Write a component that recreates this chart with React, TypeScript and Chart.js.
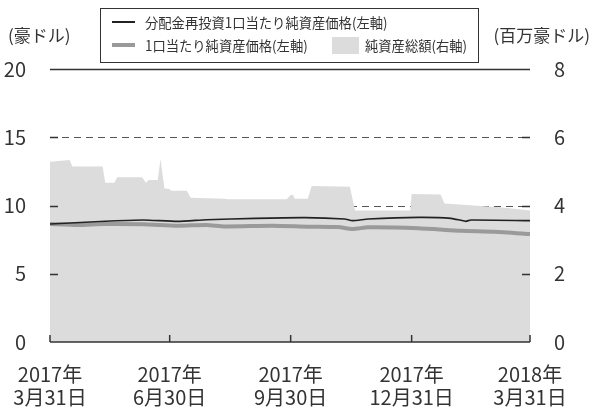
import React, { useEffect, useRef } from "react";
import { Chart, registerables } from "chart.js";

Chart.register(...registerables);

// x values are days elapsed since 2017-03-31
const tickDays = [0, 91, 183, 275, 365];
const tickLabels = [
  ["2017年", "3月31日"],
  ["2017年", "6月30日"],
  ["2017年", "9月30日"],
  ["2017年", "12月31日"],
  ["2018年", "3月31日"],
];

// 純資産総額 (百万豪ドル, right axis)
const assetDays = [0, 15, 17, 40, 42, 49, 51, 70, 73, 75, 82, 84, 87, 91, 92, 104, 107, 133, 135, 180, 183, 185, 186, 196, 199, 228, 232, 274, 275, 297, 300, 342, 365];
const assetValues = [5.28, 5.33, 5.14, 5.14, 4.67, 4.67, 4.83, 4.83, 4.67, 4.75, 4.75, 5.36, 4.5, 4.48, 4.43, 4.43, 4.23, 4.2, 4.18, 4.18, 4.31, 4.31, 4.2, 4.2, 4.57, 4.55, 3.85, 3.85, 4.34, 4.32, 4.06, 3.95, 3.85];

// 分配金再投資1口当たり純資産価格 (豪ドル, left axis)
const reinvDays = [0, 46, 71, 97, 119, 156, 194, 224, 230, 242, 280, 305, 316, 320, 365];
const reinvValues = [8.64, 8.86, 8.94, 8.84, 8.96, 9.06, 9.11, 9.01, 8.89, 9.01, 9.13, 9.06, 8.84, 8.94, 8.89];

// 1口当たり純資産価格 (豪ドル, left axis)
const navDays = [0, 21, 41, 71, 97, 119, 133, 169, 196, 219, 230, 242, 280, 313, 338, 365];
const navValues = [8.64, 8.57, 8.64, 8.62, 8.52, 8.57, 8.47, 8.52, 8.45, 8.42, 8.28, 8.4, 8.33, 8.15, 8.08, 7.91];

const leftTicks = [0, 5, 10, 15, 20];

const FONT = "'Noto Sans CJK JP', 'Noto Sans', sans-serif";
const TEXT = "#333333";
const AREA = "#dcdcdd";
const GRAY = "#9a9a9a";
const BLACK = "#222222";

const toXY = (xs: number[], ys: number[]) => xs.map((x, i) => ({ x, y: ys[i] }));

const axisPlugin = {
  id: "customAxes",
  beforeDatasetsDraw(chart: any) {
    const { ctx, chartArea } = chart;
    const y = chart.scales.y;
    ctx.save();
    leftTicks.forEach((v) => {
      if (v === 0 || v === 5) return;
      const py = Math.round(y.getPixelForValue(v)) + 0.5;
      ctx.beginPath();
      if (v === 20) {
        ctx.setLineDash([]);
        ctx.strokeStyle = "#333";
        ctx.lineWidth = 1.5;
      } else {
        ctx.setLineDash([7, 5]);
        ctx.strokeStyle = "#555";
        ctx.lineWidth = 1;
      }
      ctx.moveTo(chartArea.left, py);
      ctx.lineTo(chartArea.right, py);
      ctx.stroke();
    });
    ctx.restore();
  },
  afterDatasetsDraw(chart: any) {
    const { ctx, chartArea } = chart;
    const x = chart.scales.x;
    const y = chart.scales.y;
    ctx.save();
    ctx.setLineDash([]);
    ctx.strokeStyle = "#333";
    ctx.lineWidth = 1.5;
    const by = chartArea.bottom;
    ctx.beginPath();
    ctx.moveTo(chartArea.left, by);
    ctx.lineTo(chartArea.right, by);
    ctx.stroke();
    tickDays.forEach((d) => {
      const px = x.getPixelForValue(d);
      ctx.beginPath();
      ctx.moveTo(px, by);
      ctx.lineTo(px, by - 7);
      ctx.stroke();
    });
    leftTicks.forEach((v) => {
      if (v === 0 || v === 20) return;
      const py = Math.round(y.getPixelForValue(v)) + 0.5;
      ctx.beginPath();
      ctx.moveTo(chartArea.left, py);
      ctx.lineTo(chartArea.left + 8, py);
      ctx.moveTo(chartArea.right - 8, py);
      ctx.lineTo(chartArea.right, py);
      ctx.stroke();
    });
    ctx.restore();
  },
};

function ChartCanvas() {
  const ref = useRef<HTMLCanvasElement | null>(null);
  useEffect(() => {
    if (!ref.current) return;
    const chart = new Chart(ref.current, {
      type: "line",
      data: {
        datasets: [
          {
            label: "分配金再投資1口当たり純資産価格(左軸)",
            data: toXY(reinvDays, reinvValues),
            borderColor: BLACK,
            borderWidth: 1.6,
            pointRadius: 0,
            fill: false,
            tension: 0.2,
            yAxisID: "y",
          },
          {
            label: "1口当たり純資産価格(左軸)",
            data: toXY(navDays, navValues),
            borderColor: GRAY,
            borderWidth: 4,
            pointRadius: 0,
            fill: false,
            tension: 0.2,
            yAxisID: "y",
          },
          {
            label: "純資産総額(右軸)",
            data: toXY(assetDays, assetValues),
            borderWidth: 0,
            borderColor: AREA,
            backgroundColor: AREA,
            pointRadius: 0,
            fill: "origin",
            yAxisID: "y2",
          },
        ],
      },
      options: {
        animation: false,
        responsive: true,
        maintainAspectRatio: false,
        layout: { padding: { top: 69, left: 0, right: 0, bottom: 0 } },
        plugins: { legend: { display: false }, tooltip: { enabled: false } },
        scales: {
          x: {
            type: "linear",
            min: 0,
            max: 365,
            grid: { display: false },
            border: { display: false },
            afterBuildTicks: (s: any) => {
              s.ticks = tickDays.map((v) => ({ value: v }));
            },
            afterFit: (s: any) => {
              s.height = 66;
              s.paddingLeft = 0;
              s.paddingRight = 0;
            },
            ticks: {
              autoSkip: false,
              maxRotation: 0,
              padding: 13,
              color: TEXT,
              font: { family: FONT, size: 20, lineHeight: 1.15 },
              callback: (v: any) => {
                const i = tickDays.indexOf(Number(v));
                return i >= 0 ? tickLabels[i] : "";
              },
            },
          },
          y: {
            position: "left",
            min: 0,
            max: 20,
            grid: { display: false },
            border: { display: false },
            afterBuildTicks: (s: any) => {
              s.ticks = leftTicks.map((v) => ({ value: v }));
            },
            afterFit: (s: any) => {
              s.width = 50;
            },
            ticks: {
              padding: 16,
              color: TEXT,
              font: { family: FONT, size: 20 },
            },
          },
          y2: {
            position: "right",
            min: 0,
            max: 8,
            grid: { display: false },
            border: { display: false },
            afterFit: (s: any) => {
              s.width = 62;
            },
            ticks: {
              stepSize: 2,
              padding: 16,
              color: TEXT,
              font: { family: FONT, size: 20 },
            },
          },
        },
      },
      plugins: [axisPlugin],
    } as any);
    return () => chart.destroy();
  }, []);
  return <canvas ref={ref} />;
}

const txt: React.CSSProperties = {
  position: "absolute",
  fontFamily: FONT,
  color: TEXT,
  whiteSpace: "nowrap",
  lineHeight: "1",
};

const squeeze: React.CSSProperties = { transform: "scaleX(0.95)", transformOrigin: "left center" };

export default function App() {
  return (
    <div style={{ position: "absolute", left: 0, top: 0, width: 592, height: 408, background: "#fff" }}>
      <div style={{ position: "absolute", left: 0, top: 0, width: 592, height: 408 }}>
        <ChartCanvas />
      </div>
      <div style={{ ...txt, left: 8, top: 26, fontSize: 17 }}>(豪ドル)</div>
      <div style={{ ...txt, right: 2, top: 26, fontSize: 17 }}>(百万豪ドル)</div>
      <div
        style={{
          position: "absolute",
          left: 100,
          top: 8,
          width: 379,
          height: 55,
          border: "1px solid #333",
          boxSizing: "border-box",
          background: "#fff",
        }}
      />
      <div style={{ position: "absolute", left: 112, top: 21, width: 23, height: 2, background: BLACK }} />
      <div style={{ ...txt, ...squeeze, left: 145, top: 15, fontSize: 14 }}>分配金再投資1口当たり純資産価格(左軸)</div>
      <div style={{ position: "absolute", left: 112, top: 43, width: 23, height: 4, background: GRAY }} />
      <div style={{ ...txt, ...squeeze, left: 145, top: 38, fontSize: 14 }}>1口当たり純資産価格(左軸)</div>
      <div style={{ position: "absolute", left: 332, top: 37, width: 27, height: 17, background: AREA }} />
      <div style={{ ...txt, ...squeeze, left: 365, top: 38, fontSize: 14 }}>純資産総額(右軸)</div>
    </div>
  );
}
